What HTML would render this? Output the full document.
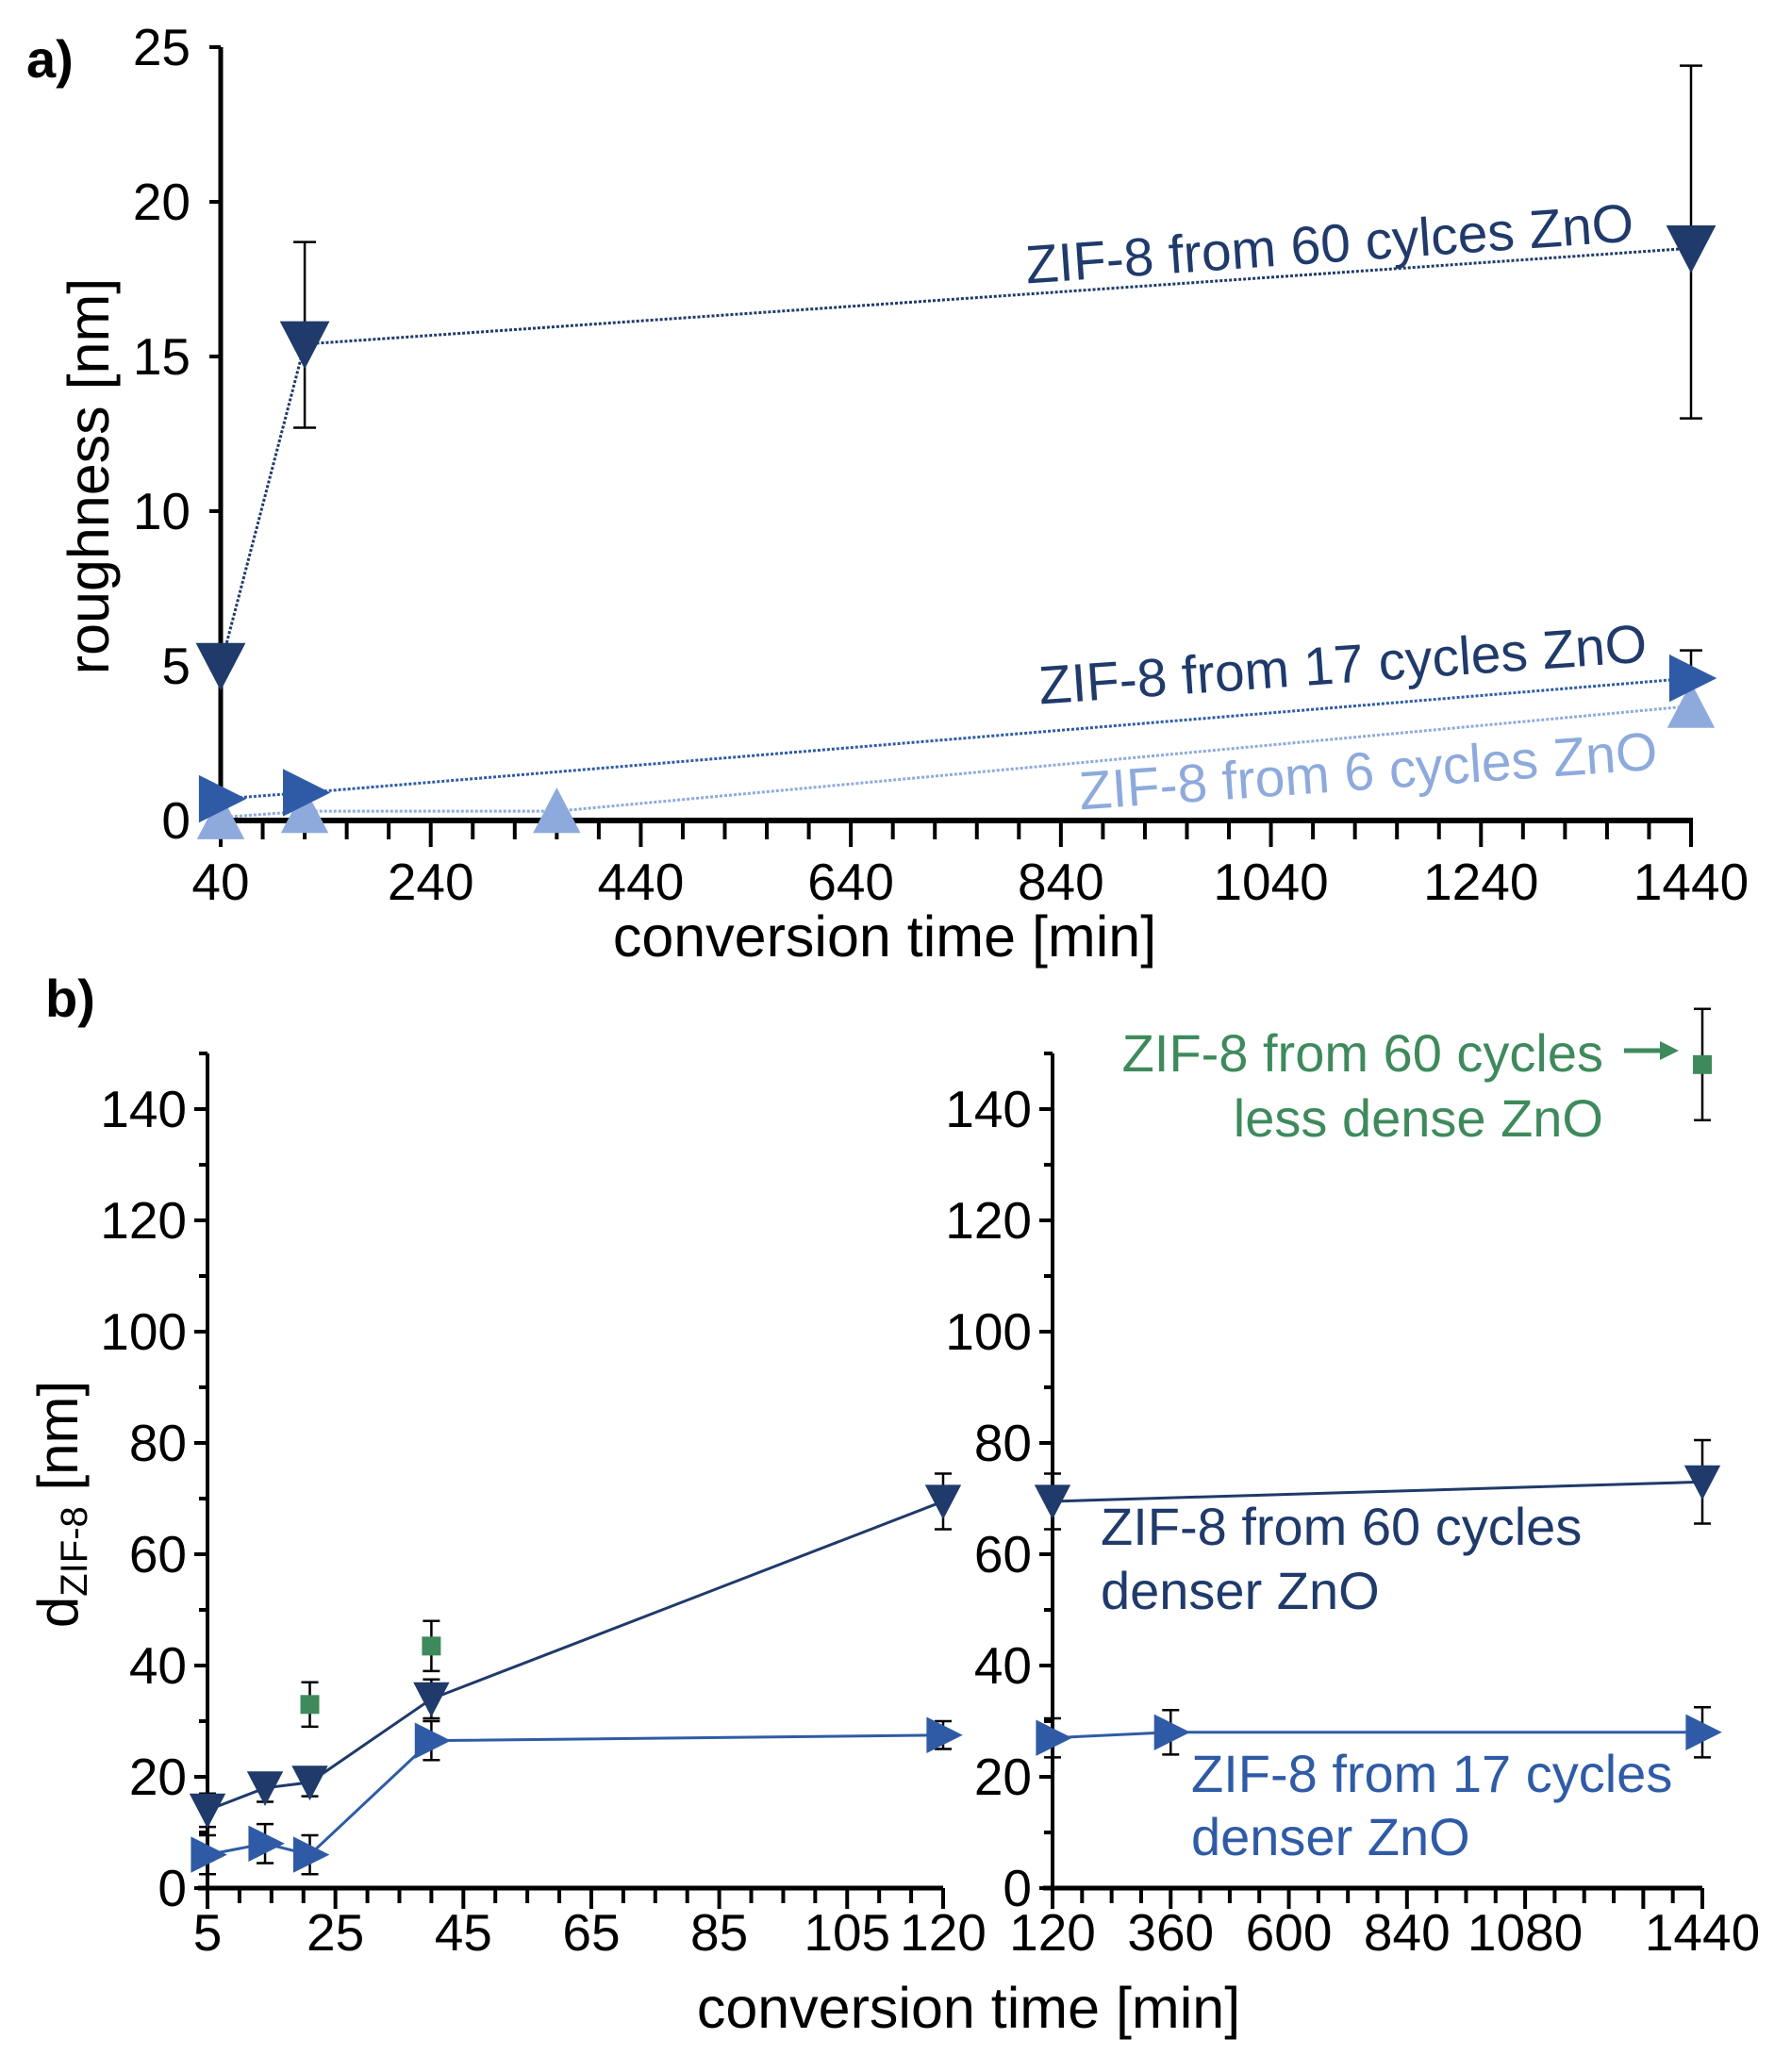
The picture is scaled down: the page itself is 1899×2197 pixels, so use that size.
<!DOCTYPE html>
<html><head><meta charset="utf-8"><style>
html,body{margin:0;padding:0;background:#fff;}
svg{display:block;font-family:"Liberation Sans",sans-serif;}
</style></head><body>
<svg id="chart" width="1899" height="2197" viewBox="0 0 1899 2197">
<g id="pa"></g>
<g id="pb"></g>
</svg>
<script>
// ---- Panel a data ----
const aTicksX = [40,240,440,640,840,1040,1240,1440];
const aTicksY = [0,5,10,15,20,25];
const a60x = [40,120,1440];
const a60y = [5,15.4,18.5];
const a60lo = [null,12.7,13];
const a60hi = [null,18.7,24.4];
const a17x = [40,120,1440];
const a17y = [0.7,0.9,4.6];
const a17lo = [null,null,3.1];
const a17hi = [null,null,5.5];
const a6x = [40,120,360,1440];
const a6y = [0.1,0.3,0.3,3.7];
// ---- Panel b data ----
const bLTicksX = [5,25,45,65,85,105,120];
const bRTicksX = [120,360,600,840,1080,1440];
const bTicksY = [0,20,40,60,80,100,120,140];
const bL60x = [5,14,21,40,120];
const bL60y = [14,18,19,34,69.5];
const bL60e = [3,2.5,2.5,3.5,5];
const bL17x = [5,14,21,40,120];
const bL17y = [6,8,6,26.5,27.5];
const bL17e = [3.5,3.5,3.5,3.5,2.5];
const bLgx = [21,40];
const bLgy = [33,43.5];
const bLge = [4,4.5];
const bR60x = [120,1440];
const bR60y = [69.5,73];
const bR60e = [5,7.5];
const bR17x = [120,360,1440];
const bR17y = [27,28,28];
const bR17e = [3.5,4,4.5];
const bRgx = [1440];
const bRgy = [148];
const bRge = [10];

const NS="http://www.w3.org/2000/svg";
function mk(parent,tag,attrs,text){const e=document.createElementNS(NS,tag);for(const k in attrs)e.setAttribute(k,attrs[k]);if(text!==undefined)e.textContent=text;parent.appendChild(e);return e;}
const DARK="#1f3a6b",MID="#2f5ba6",LIGHT="#8eaadc",GREEN="#3e8a5c";
const TF=55;

// ---- Panel a ----
const pa=document.getElementById('pa');
const axA={x0:234,x1:1793,y0:870,y1:50};
const ax=v=>axA.x0+(v-40)/1400*(axA.x1-axA.x0);
const ay=v=>axA.y0-v/25*(axA.y0-axA.y1);
let l=mk(pa,'line',{x1:axA.x0,y1:axA.y0,x2:axA.x0,y2:axA.y1,stroke:'#000','stroke-width':5});


l=mk(pa,'line',{x1:axA.x0-3,y1:axA.y0,x2:axA.x1+2,y2:axA.y0,stroke:'#000','stroke-width':6});


for(let v=40;v<=1440;v+=40){const big=(v-40)%200===0;mk(pa,'line',{x1:ax(v),y1:axA.y0,x2:ax(v),y2:axA.y0+(big?28:20),stroke:'#000','stroke-width':4});}
aTicksX.forEach(v=>{const t=mk(pa,'text',{x:ax(v),y:954,'font-size':TF,'text-anchor':'middle'},String(v));

});
aTicksY.forEach(v=>{mk(pa,'line',{x1:axA.x0-12,y1:ay(v),x2:axA.x0,y2:ay(v),stroke:'#000','stroke-width':4});
const t=mk(pa,'text',{x:202,y:ay(v)+19,'font-size':TF,'text-anchor':'end'},String(v));

});
function errA(x,lo,hi){mk(pa,'line',{x1:ax(x),y1:ay(lo),x2:ax(x),y2:ay(hi),stroke:'#000','stroke-width':2.5});[lo,hi].forEach(v=>mk(pa,'line',{x1:ax(x)-12,y1:ay(v),x2:ax(x)+12,y2:ay(v),stroke:'#000','stroke-width':2.5}));}
function lineA(xs,ys,col,name){const p=xs.map((x,i)=>ax(x)+','+ay(ys[i])).join(' ');const e=mk(pa,'polyline',{points:p,fill:'none',stroke:col,'stroke-width':3,'stroke-dasharray':'3 2'});

}
function tri(g,cx,cy,s,dir,col){let pts;
if(dir==='down')pts=[[cx-s*0.6,cy-s*0.55],[cx+s*0.6,cy-s*0.55],[cx,cy+s*0.6]];
else if(dir==='up')pts=[[cx-s*0.6,cy+s*0.55],[cx+s*0.6,cy+s*0.55],[cx,cy-s*0.6]];
else pts=[[cx-s*0.55,cy-s*0.6],[cx-s*0.55,cy+s*0.6],[cx+s*0.65,cy]];
return mk(g,'polygon',{points:pts.map(p=>p.join(',')).join(' '),fill:col});}
lineA(a6x,a6y,LIGHT,'line-6-cycles');
lineA(a17x,a17y,MID,'line-17-cycles');
lineA(a60x,a60y,DARK,'line-60-cycles');
a60x.forEach((x,i)=>{if(a60lo[i]!==null)errA(x,a60lo[i],a60hi[i]);});
a17x.forEach((x,i)=>{if(a17lo[i]!==null)errA(x,a17lo[i],a17hi[i]);});
a6x.forEach((x,i)=>{const m=tri(pa,ax(x),ay(a6y[i]),42,'up',LIGHT);

});
a17x.forEach((x,i)=>{const m=tri(pa,ax(x),ay(a17y[i]),42,'right',MID);

});
a60x.forEach((x,i)=>{const m=tri(pa,ax(x),ay(a60y[i]),44,'down',DARK);

});
function rlab(g,x,y,txt,col,name,fs){const t=mk(g,'text',{x:x,y:y,'font-size':fs||57,fill:col,'text-anchor':'middle',transform:`rotate(-4 ${x} ${y})`},txt);

}
rlab(pa,1411,278,'ZIF-8 from 60 cylces ZnO',DARK,'label-60-cycles');
rlab(pa,1425,724,'ZIF-8 from 17 cycles ZnO',DARK,'label-17-cycles');
rlab(pa,1452,837,'ZIF-8 from 6 cycles ZnO',LIGHT,'label-6-cycles');
let t=mk(pa,'text',{x:28,y:82,'font-size':56,'font-weight':'bold'},'a)');


t=mk(pa,'text',{x:938,y:1014,'font-size':61,'text-anchor':'middle'},'conversion time [min]');


t=mk(pa,'text',{x:115,y:505,'font-size':61,'text-anchor':'middle',transform:'rotate(-90 115 505)'},'roughness [nm]');



// ---- Panel b ----
const pb=document.getElementById('pb');
const Y0=2002,Y140=1176;
const by=v=>Y0-v/140*(Y0-Y140);
const bxL=v=>220+(v-5)/115*(1000-220);
const bxR=v=>1116+(v-120)/1320*(1805-1116);
function axes(x0,x1,name){let e=mk(pb,'line',{x1:x0,y1:Y0,x2:x0,y2:by(150),stroke:'#000','stroke-width':4});


e=mk(pb,'line',{x1:x0-10,y1:Y0,x2:x1,y2:Y0,stroke:'#000','stroke-width':5});


for(let v=0;v<=150;v+=10){mk(pb,'line',{x1:x0-(v%20===0?14:9),y1:by(v),x2:x0,y2:by(v),stroke:'#000','stroke-width':4});}
bTicksY.forEach(v=>{const t=mk(pb,'text',{x:x0-22,y:by(v)+19,'font-size':TF,'text-anchor':'end'},String(v));

});}
axes(220,1000,'left');axes(1116,1805,'right');
for(let v=5;v<=120;v+=5)mk(pb,'line',{x1:bxL(v),y1:Y0,x2:bxL(v),y2:Y0+(v%20===5||v===120?22:16),stroke:'#000','stroke-width':4});
for(let v=120;v<=1440;v+=60)mk(pb,'line',{x1:bxR(v),y1:Y0,x2:bxR(v),y2:Y0+((v-120)%240===0||v===1440?22:16),stroke:'#000','stroke-width':4});
bLTicksX.forEach(v=>{const t=mk(pb,'text',{x:bxL(v),y:2068,'font-size':TF,'text-anchor':'middle'},String(v));

});
bRTicksX.forEach(v=>{const t=mk(pb,'text',{x:bxR(v),y:2068,'font-size':TF,'text-anchor':'middle'},String(v));

});
function errB(x,y,e){mk(pb,'line',{x1:x,y1:by(y-e),x2:x,y2:by(y+e),stroke:'#000','stroke-width':2.5});[y-e,y+e].forEach(v=>mk(pb,'line',{x1:x-9,y1:by(v),x2:x+9,y2:by(v),stroke:'#000','stroke-width':2.5}));}
function seriesB(xs,ys,es,fx,col,dir,name,line){
if(line){const e=mk(pb,'polyline',{points:xs.map((x,i)=>fx(x)+','+by(ys[i])).join(' '),fill:'none',stroke:col,'stroke-width':3});

}
xs.forEach((x,i)=>{errB(fx(x),ys[i],es[i]);let m;
if(dir==='sq')m=mk(pb,'rect',{x:fx(x)-10,y:by(ys[i])-10,width:20,height:20,fill:col});
else m=tri(pb,fx(x),by(ys[i]),32,dir,col);

});}
seriesB(bL17x,bL17y,bL17e,bxL,MID,'right','17-cycles-left',true);
seriesB(bL60x,bL60y,bL60e,bxL,DARK,'down','60-cycles-left',true);
seriesB(bLgx,bLgy,bLge,bxL,GREEN,'sq','less-dense-left',false);
seriesB(bR17x,bR17y,bR17e,bxR,MID,'right','17-cycles-right',true);
seriesB(bR60x,bR60y,bR60e,bxR,DARK,'down','60-cycles-right',true);
seriesB(bRgx,bRgy,bRge,bxR,GREEN,'sq','less-dense-right',false);
function lab(x,y,txt,col,anchor,name){const t=mk(pb,'text',{x:x,y:y,'font-size':56,fill:col,'text-anchor':anchor},txt);

}
lab(1700,1136,'ZIF-8 from 60 cycles',GREEN,'end','label-less-dense-line1');
lab(1700,1205,'less dense ZnO',GREEN,'end','label-less-dense-line2');
mk(pb,'line',{x1:1722,y1:1114,x2:1762,y2:1114,stroke:GREEN,'stroke-width':5});
mk(pb,'polygon',{points:'1760,1104 1780,1114 1760,1124',fill:GREEN});
lab(1167,1638,'ZIF-8 from 60 cycles',DARK,'start','label-60-dense-line1');
lab(1167,1706,'denser ZnO',DARK,'start','label-60-dense-line2');
lab(1263,1900,'ZIF-8 from 17 cycles',MID,'start','label-17-dense-line1');
lab(1263,1967,'denser ZnO',MID,'start','label-17-dense-line2');
t=mk(pb,'text',{x:48,y:1078,'font-size':56,'font-weight':'bold'},'b)');


t=mk(pb,'text',{x:1027,y:2150,'font-size':61,'text-anchor':'middle'},'conversion time [min]');


t=mk(pb,'text',{x:82,y:1595,'font-size':60,'text-anchor':'middle',transform:'rotate(-90 82 1595)'});


mk(t,'tspan',{},'d');mk(t,'tspan',{'font-size':40,dy:10},'ZIF-8');mk(t,'tspan',{dy:-10},' [nm]');
</script>
</body></html>
